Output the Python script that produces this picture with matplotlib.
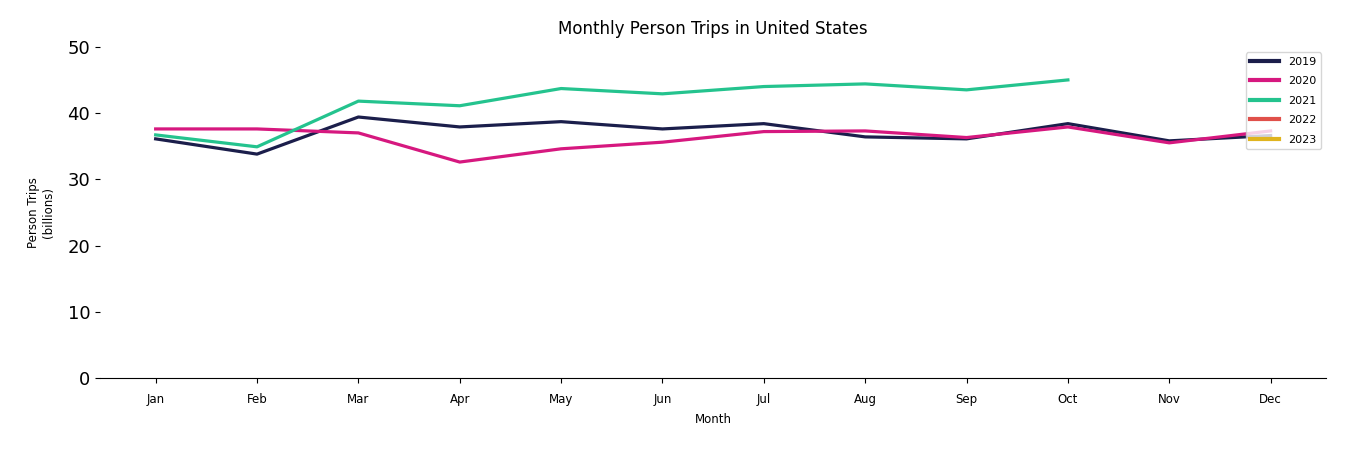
import matplotlib
matplotlib.use("Agg")
import matplotlib.pyplot as plt

months = ["Jan", "Feb", "Mar", "Apr", "May", "Jun", "Jul", "Aug", "Sep", "Oct", "Nov", "Dec"]

trips_2019 = [36.1, 33.8, 39.4, 37.9, 38.7, 37.6, 38.4, 36.4, 36.1, 38.4, 35.8, 36.6]
trips_2020 = [37.6, 37.6, 37.0, 32.6, 34.6, 35.6, 37.2, 37.3, 36.3, 37.9, 35.5, 37.3]
trips_2021 = [36.7, 34.9, 41.8, 41.1, 43.7, 42.9, 44.0, 44.4, 43.5, 45.0]
trips_2022 = []
trips_2023 = []

series = [
    ("2019", trips_2019, "#1b1e4b"),
    ("2020", trips_2020, "#d6187f"),
    ("2021", trips_2021, "#24c38e"),
    ("2022", trips_2022, "#e0504a"),
    ("2023", trips_2023, "#e0b41e"),
]

fig = plt.figure(figsize=(13.5, 4.5), dpi=100)
ax = fig.add_axes([0.074, 0.16, 0.9085, 0.736])

for label, vals, color in series:
    ax.plot(months[:len(vals)], vals, label=label, color=color, linewidth=2.3)

ax.set_ylim(0, 50)
ax.set_yticks([0, 10, 20, 30, 40, 50])
ax.tick_params(axis="y", labelsize=13)
ax.tick_params(axis="x", labelsize=8.5, pad=7)
ax.spines["top"].set_visible(False)
ax.spines["right"].set_visible(False)
ax.spines["left"].set_visible(False)

ax.set_title("Monthly Person Trips in United States", fontsize=12, pad=9)
ax.set_xlabel("Month", fontsize=8.5, labelpad=5)
ax.set_ylabel("Person Trips\n(billions)", fontsize=8.5, labelpad=9)
leg = ax.legend(loc="upper right", fontsize=8, labelspacing=0.85, handlelength=2.6)
for line in leg.get_lines():
    line.set_linewidth(3)

fig.savefig("out.png", dpi=100)
